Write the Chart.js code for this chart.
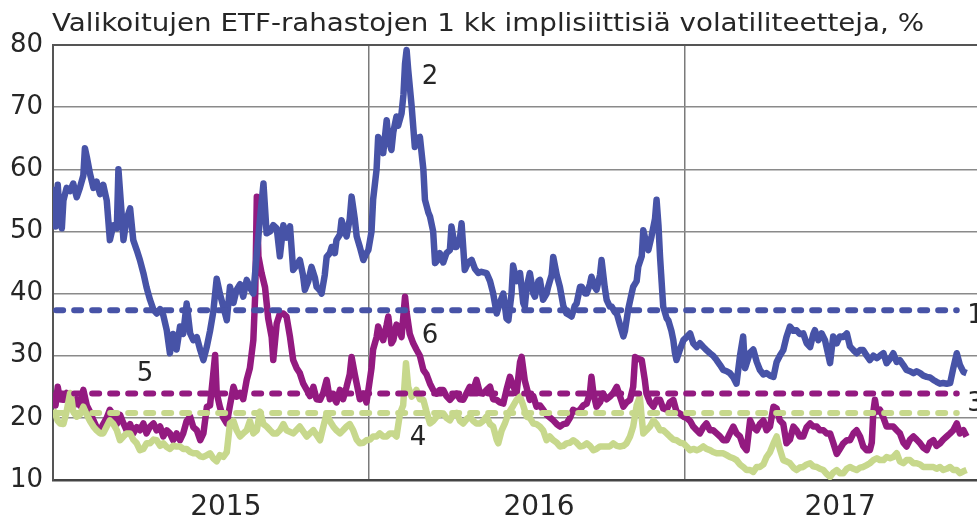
<!DOCTYPE html>
<html lang="fi">
<head>
<meta charset="UTF-8">
<title>ETF-rahastojen volatiliteetit</title>
<script src="https://cdn.jsdelivr.net/npm/chart.js"></script>
<style>
    html, body { margin: 0; padding: 0; background: #ffffff; overflow: hidden; }
    #wrap { width: 977px; height: 524px; }
</style>
</head>
<body>
<div id="wrap"><canvas id="volChart" width="977" height="524"></canvas></div>
<script>
// time axis: years since 1.1.2015
const yearNames = ['2015', '2016', '2017'];
const yearLabelAt = [0.547, 1.538, 2.491];
const yearLines = [1, 2];
const yTicks = [10, 20, 30, 40, 50, 60, 70, 80];

// dashed averages (1, 5, 3)
const avg1 = 37.3;
const avg5 = 23.9;
const avg3 = 20.8;
const avgSpan = [0.01, 2.86];

// series 2 (blue)
const t2 = [0.001,0.008,0.015,0.022,0.028,0.033,0.043,0.054,0.064,0.075,0.085,0.096,0.101,0.107,0.117,0.128,0.138,0.149,0.159,0.170,0.180,0.191,0.202,0.207,0.217,0.223,0.233,0.244,0.254,0.265,0.275,0.286,0.296,0.307,0.318,0.328,0.339,0.349,0.360,0.370,0.380,0.391,0.402,0.412,0.423,0.434,0.444,0.455,0.466,0.476,0.487,0.497,0.507,0.518,0.528,0.539,0.550,0.560,0.571,0.581,0.592,0.602,0.613,0.623,0.634,0.645,0.655,0.666,0.676,0.687,0.697,0.708,0.718,0.729,
    0.739,0.750,0.760,0.770,0.781,0.791,0.797,0.808,0.818,0.829,0.834,0.845,0.850,0.860,0.866,0.876,0.882,0.892,0.897,0.908,0.913,0.923,0.929,0.939,0.945,0.955,0.961,0.971,0.982,0.992,0.998,1.008,1.013,1.024,1.029,1.040,1.045,1.056,1.061,1.071,1.077,1.087,1.092,1.103,1.109,1.114,1.119,1.124,1.135,1.145,1.150,1.161,1.172,1.177,1.188,1.193,1.203,1.209,1.219,1.224,1.235,1.245,1.256,1.261,1.272,1.277,1.288,1.293,1.303,1.314,1.325,1.335,1.346,1.356,1.372,1.383,1.393,1.404,1.414,1.425,1.435,1.441,1.451,1.456,
    1.467,1.478,1.488,1.493,1.499,1.509,1.520,1.525,1.536,1.541,1.551,1.562,1.567,1.578,1.583,1.594,1.604,1.615,1.625,1.636,1.641,1.651,1.657,1.668,1.673,1.684,1.689,1.699,1.704,1.715,1.720,1.731,1.736,1.746,1.752,1.762,1.768,1.778,1.784,1.794,1.805,1.810,1.820,1.831,1.836,1.847,1.852,1.863,1.868,1.878,1.884,1.894,1.905,1.910,1.916,1.921,1.931,1.942,1.947,1.957,1.963,1.968,1.973,1.984,1.995,2.005,2.016,2.026,2.037,2.047,2.058,2.068,2.079,2.089,2.100,2.111,2.121,2.132,2.142,2.153,2.163,2.174,2.184,
    2.190,2.206,2.216,2.227,2.237,2.248,2.258,2.269,2.280,2.290,2.300,2.311,2.321,2.332,2.343,2.353,2.363,2.374,2.385,2.396,2.406,2.411,2.422,2.432,2.443,2.454,2.459,2.469,2.480,2.490,2.501,2.512,2.522,2.533,2.543,2.554,2.564,2.575,2.585,2.596,2.607,2.617,2.628,2.638,2.649,2.659,2.670,2.680,2.691,2.701,2.712,2.723,2.733,2.744,2.754,2.765,2.775,2.786,2.796,2.807,2.817,2.828,2.839,2.849,2.860,2.870,2.881,2.891];
const v2 = [57.2,50.8,57.5,52.0,50.5,55.0,57.0,56.5,57.7,55.5,57.0,59.0,63.4,62.0,59.3,57.0,58.0,56.0,57.5,55.0,48.6,51.0,50.5,60.0,53.0,48.6,52.0,53.7,48.6,47.0,45.4,43.3,41.0,39.0,37.4,36.8,37.5,36.5,34.1,30.4,33.5,31.0,34.7,33.5,38.4,33.6,32.5,33.0,30.9,29.3,31.5,34.0,37.0,42.4,40.0,37.9,35.7,41.1,38.5,40.6,41.5,39.5,42.2,41.0,40.0,46.5,52.0,57.7,49.7,50.0,51.0,50.5,46.0,51.0,
    49.0,50.8,43.8,44.5,45.4,43.0,40.6,42.0,44.3,42.5,41.1,40.5,40.0,43.0,45.9,46.5,47.5,46.5,48.6,49.5,51.8,50.0,49.2,52.0,55.6,52.0,49.2,47.5,45.4,46.5,47.0,50.0,55.1,60.0,65.2,64.0,62.6,67.9,65.0,63.1,66.0,68.5,67.0,69.0,72.0,77.0,79.2,76.0,70.1,63.6,65.0,65.2,60.0,55.1,53.0,52.4,50.0,44.9,45.5,46.5,45.0,46.5,47.0,50.8,47.5,47.5,49.0,51.3,43.8,45.0,45.4,44.0,43.3,43.5,43.3,42.0,40.0,36.8,38.5,40.0,36.0,35.7,40.0,44.5,
    42.0,43.3,38.5,37.9,41.0,43.3,40.0,39.5,42.0,42.2,39.0,40.0,41.1,43.0,45.9,43.0,41.1,38.0,36.8,36.5,36.3,38.0,38.4,41.1,41.1,40.0,40.0,41.5,42.7,41.0,40.6,43.0,45.4,41.0,39.0,37.9,37.9,37.0,36.8,35.0,33.1,34.0,37.4,40.0,41.1,42.0,44.3,46.0,50.2,48.0,47.0,49.2,52.0,55.1,51.0,45.9,37.9,36.0,35.7,34.0,32.5,30.5,29.3,31.0,32.5,33.0,33.6,32.0,31.4,32.0,31.4,30.9,30.4,30.0,29.3,28.5,27.7,27.5,27.2,26.5,25.5,30.0,33.1,
    28.0,30.5,31.0,29.0,27.7,27.0,27.2,26.8,26.6,29.0,30.0,30.9,33.0,34.7,34.0,34.1,33.5,33.6,32.0,31.4,33.5,34.1,32.5,33.6,32.5,30.0,28.8,33.1,32.0,33.1,33.0,33.6,31.5,30.9,30.4,30.9,30.9,30.0,29.3,30.0,29.6,30.0,30.4,28.8,29.5,30.4,29.0,29.3,28.5,27.7,27.5,27.2,27.5,27.2,26.8,26.6,26.5,26.1,25.8,25.5,25.6,25.5,25.6,28.0,30.4,28.5,27.4,27.2];

// series 6 (purple)
const t6 = [0.001,0.008,0.015,0.022,0.033,0.043,0.054,0.064,0.075,0.085,0.096,0.107,0.117,0.128,0.138,0.149,0.159,0.170,0.180,0.191,0.202,0.212,0.223,0.233,0.244,0.254,0.265,0.275,0.286,0.296,0.307,0.318,0.328,0.339,0.349,0.360,0.370,0.380,0.391,0.402,0.412,0.423,0.434,0.444,0.455,0.466,0.476,0.487,0.497,0.507,0.513,0.518,0.528,0.539,0.550,0.560,0.571,0.581,0.592,0.602,0.613,0.623,0.634,0.640,0.645,0.650,0.660,0.671,0.681,0.692,0.697,0.708,0.718,0.729,
    0.739,0.750,0.760,0.771,0.781,0.792,0.803,0.813,0.824,0.834,0.845,0.855,0.866,0.876,0.887,0.897,0.908,0.918,0.929,0.939,0.945,0.955,0.961,0.971,0.982,0.992,0.998,1.008,1.013,1.024,1.029,1.040,1.045,1.056,1.061,1.071,1.077,1.087,1.092,1.103,1.114,1.119,1.129,1.140,1.150,1.161,1.172,1.182,1.193,1.203,1.214,1.224,1.235,1.245,1.256,1.266,1.277,1.288,1.298,1.309,1.319,1.330,1.340,1.351,1.361,1.372,1.383,1.393,1.404,1.414,1.425,1.435,1.446,
    1.457,1.467,1.478,1.483,1.493,1.509,1.520,1.530,1.541,1.551,1.562,1.583,1.594,1.604,1.615,1.625,1.636,1.646,1.657,1.668,1.678,1.689,1.699,1.704,1.710,1.720,1.731,1.741,1.752,1.762,1.773,1.784,1.794,1.805,1.815,1.826,1.836,1.842,1.852,1.863,1.873,1.878,1.889,1.900,1.910,1.921,1.931,1.942,1.952,1.963,1.973,1.984,1.995,2.005,2.016,2.026,2.037,2.047,2.058,2.068,2.079,2.089,2.100,2.111,2.121,2.132,2.142,2.153,2.163,2.174,2.184,2.195,
    2.206,2.216,2.227,2.237,2.248,2.258,2.269,2.280,2.290,2.300,2.311,2.321,2.332,2.343,2.353,2.363,2.374,2.385,2.396,2.406,2.417,2.427,2.438,2.448,2.459,2.469,2.480,2.490,2.501,2.512,2.522,2.533,2.543,2.554,2.564,2.575,2.585,2.591,2.596,2.601,2.607,2.617,2.628,2.638,2.649,2.659,2.670,2.680,2.691,2.701,2.712,2.723,2.733,2.744,2.754,2.765,2.775,2.786,2.796,2.807,2.817,2.828,2.839,2.849,2.860,2.870,2.881,2.891];
const v6 = [24.0,22.0,25.0,23.0,22.9,24.0,22.0,21.8,23.0,22.0,24.5,22.0,21.0,19.6,18.5,18.0,19.0,20.0,21.3,20.5,19.0,20.5,19.1,18.0,19.0,17.5,18.5,18.0,19.1,17.5,18.6,19.1,18.0,18.6,17.0,18.0,17.5,16.4,17.5,16.4,17.5,19.5,20.2,18.5,18.0,16.4,17.5,21.8,22.0,27.0,30.1,24.0,21.8,20.0,19.1,22.0,25.0,23.4,24.0,23.0,26.1,28.0,32.5,40.0,55.6,46.0,43.3,41.0,36.0,33.0,29.3,35.2,36.8,36.8,
    36.3,33.0,29.3,28.0,27.2,25.5,24.5,23.5,25.0,23.0,22.9,24.0,26.1,23.0,23.4,22.5,24.5,23.0,25.0,27.0,29.8,27.0,25.5,23.0,23.9,22.5,24.5,28.0,31.0,33.0,34.7,33.0,32.5,35.0,36.3,32.0,32.5,35.0,34.7,33.0,39.5,37.0,33.5,32.0,31.0,30.0,27.7,27.0,25.5,24.5,23.9,24.5,24.5,23.5,22.9,23.5,23.9,23.0,22.9,24.0,25.0,24.5,26.1,24.0,23.9,24.5,25.0,23.0,22.9,22.5,22.3,24.5,26.6,
    25.0,24.0,29.0,29.8,26.0,22.9,23.5,21.8,22.0,21.3,20.5,19.6,19.0,18.6,19.0,19.1,20.0,21.3,21.0,21.3,22.0,22.3,24.0,26.6,24.0,21.8,22.5,23.9,23.0,23.4,24.0,25.0,23.5,21.8,22.5,22.9,25.0,29.8,29.5,29.3,26.0,23.9,22.5,21.8,22.9,22.9,21.5,21.3,22.5,22.9,21.0,20.7,20.2,20.0,19.5,18.6,18.0,17.5,18.5,19.1,18.0,18.0,17.5,17.0,16.4,16.4,17.5,18.6,17.5,17.0,15.5,14.8,
    19.6,18.5,18.0,19.0,19.6,18.0,18.6,21.8,21.5,19.6,19.0,15.9,16.5,18.6,18.0,17.0,17.0,18.5,19.1,18.6,18.6,18.0,18.0,17.5,17.5,16.0,14.2,15.0,15.9,16.4,16.4,17.5,18.0,17.0,15.4,14.8,14.8,16.0,21.0,22.9,21.0,21.3,20.0,18.6,18.6,18.6,18.0,17.5,16.0,15.4,16.5,17.0,16.5,15.9,15.2,14.8,16.0,16.4,15.5,15.9,16.5,17.0,17.5,18.0,19.1,17.5,18.0,17.0];

// series 4 (light green)
const t4 = [0.001,0.008,0.015,0.022,0.033,0.043,0.054,0.059,0.064,0.075,0.085,0.096,0.107,0.117,0.128,0.138,0.149,0.159,0.170,0.180,0.191,0.202,0.212,0.223,0.233,0.244,0.254,0.265,0.275,0.286,0.296,0.307,0.318,0.328,0.339,0.349,0.360,0.370,0.380,0.391,0.402,0.412,0.423,0.434,0.444,0.455,0.466,0.476,0.487,0.497,0.507,0.518,0.528,0.539,0.550,0.560,0.571,0.581,0.592,0.602,0.613,0.623,0.634,0.645,0.655,0.666,0.676,0.687,0.697,0.708,0.718,0.729,
    0.739,0.760,0.781,0.803,0.813,0.824,0.845,0.855,0.866,0.876,0.887,0.897,0.908,0.918,0.929,0.939,0.950,0.961,0.971,0.982,0.992,1.003,1.013,1.024,1.034,1.045,1.056,1.066,1.077,1.087,1.098,1.108,1.117,1.124,1.135,1.145,1.150,1.161,1.172,1.182,1.193,1.203,1.214,1.224,1.235,1.245,1.256,1.266,1.277,1.288,1.298,1.309,1.319,1.330,1.340,1.351,1.361,1.372,1.383,1.393,1.404,1.409,1.420,1.430,1.441,1.451,
    1.467,1.478,1.488,1.499,1.509,1.520,1.530,1.541,1.551,1.562,1.572,1.583,1.594,1.604,1.615,1.625,1.636,1.646,1.657,1.668,1.678,1.689,1.699,1.710,1.720,1.731,1.741,1.752,1.762,1.773,1.784,1.794,1.805,1.815,1.826,1.836,1.847,1.857,1.863,1.868,1.878,1.889,1.900,1.910,1.921,1.931,1.942,1.952,1.963,1.973,1.984,1.995,2.005,2.016,2.026,2.037,2.047,2.058,2.068,2.079,2.089,2.100,2.111,2.121,2.132,2.142,2.153,2.163,2.174,2.184,2.195,
    2.206,2.216,2.227,2.237,2.248,2.258,2.269,2.280,2.290,2.300,2.311,2.321,2.332,2.343,2.353,2.363,2.374,2.385,2.396,2.406,2.417,2.427,2.438,2.448,2.459,2.469,2.480,2.490,2.501,2.512,2.522,2.533,2.543,2.554,2.564,2.575,2.585,2.596,2.607,2.617,2.628,2.638,2.649,2.659,2.670,2.680,2.691,2.701,2.712,2.723,2.733,2.744,2.754,2.765,2.775,2.786,2.796,2.807,2.817,2.828,2.839,2.849,2.860,2.870,2.881,2.891];
const v4 = [21.3,20.5,19.5,19.1,19.0,21.0,24.0,23.0,21.0,20.2,20.5,21.8,20.5,19.5,18.6,18.0,17.5,17.5,18.6,19.6,19.0,18.0,16.4,17.0,17.5,17.5,16.5,15.9,14.8,15.0,15.9,15.9,16.5,16.4,15.5,15.9,15.3,15.0,15.5,15.4,15.4,15.0,15.0,14.5,14.3,14.3,13.8,13.7,14.0,14.3,13.5,13.0,14.0,13.7,14.5,19.1,19.5,18.0,17.0,17.5,18.0,19.5,17.5,18.0,21.0,19.0,18.6,18.0,17.5,17.5,18.0,19.0,
    18.0,17.5,18.6,17.0,17.5,18.0,16.4,18.5,20.7,19.5,18.6,18.0,17.5,18.0,18.6,19.0,18.0,16.5,15.9,16.0,16.4,16.5,17.0,17.0,17.5,17.0,17.0,17.5,17.5,17.0,20.7,22.0,28.8,25.0,23.4,24.0,24.5,23.0,22.9,21.0,19.1,19.5,20.2,20.5,20.7,20.0,19.6,20.5,20.8,19.5,19.1,19.8,20.2,19.5,19.1,19.1,19.5,20.2,19.0,18.6,16.5,15.9,18.0,19.1,20.7,21.5,
    22.9,23.4,22.0,20.2,20.0,19.1,19.0,18.6,18.0,16.4,17.0,16.4,16.0,15.4,15.5,15.9,16.0,16.4,16.0,15.4,15.5,15.9,15.5,14.8,15.0,15.4,15.4,15.4,15.4,15.9,15.5,15.4,15.5,15.9,17.0,18.6,22.0,23.4,20.0,17.5,18.0,18.6,19.6,19.0,18.0,18.0,17.5,17.0,16.5,16.4,16.0,15.9,15.4,14.8,15.0,14.8,15.0,15.4,15.0,14.8,14.5,14.3,14.3,14.3,14.0,13.7,13.5,13.2,12.5,12.1,11.6,
    11.6,11.3,12.1,12.1,12.5,13.7,14.5,15.9,17.0,15.0,13.2,13.0,12.7,12.0,11.6,12.0,12.1,12.5,12.7,12.2,12.1,11.8,11.6,11.0,10.5,11.2,11.6,11.1,11.1,11.8,12.1,11.8,11.6,12.0,12.1,12.4,12.7,13.2,13.5,13.2,13.2,13.7,13.5,13.7,14.3,13.0,12.7,13.2,13.2,12.7,12.7,12.5,12.1,12.1,12.1,12.1,11.8,12.1,11.6,11.8,12.1,11.6,11.6,11.1,11.4,11.6];

const BLUE = '#4753a7';
const PURPLE = '#931a80';
const GREEN = '#c7d88c';

function pts(ts, vs) {
    return ts.map((t, i) => ({ x: t, y: vs[i] }));
}
function flat(v) {
    return avgSpan.map(t => ({ x: t, y: v }));
}

// text drawn on top: title and the series numbers
const annotate = {
    id: 'annotate',
    afterDraw(chart) {
        const ctx = chart.ctx;
        const xs = chart.scales.x, ys = chart.scales.y;
        ctx.save();
        ctx.fillStyle = '#262626';
        ctx.textBaseline = 'alphabetic';

        // title is set a bit wider than the plain font
        ctx.save();
        ctx.translate(52, 31);
        ctx.scale(1.155, 1);
        ctx.font = '24px "DejaVu Sans"';
        ctx.textAlign = 'left';
        ctx.fillText('Valikoitujen ETF-rahastojen 1 kk implisiittisiä volatiliteetteja, %', 0, 0);
        ctx.restore();

        ctx.font = '26px "DejaVu Sans"';
        const marks = [
            ['2', 1.193, 75.2, 'center'],
            ['6', 1.193, 33.5, 'center'],
            ['5', 0.291, 27.4, 'center'],
            ['4', 1.155, 17.1, 'center'],
            ['1', 2.893, 36.8, 'left'],
            ['3', 2.893, 22.6, 'left']
        ];
        marks.forEach(([txt, t, v, align]) => {
            ctx.textAlign = align;
            ctx.fillText(txt, xs.getPixelForValue(t), ys.getPixelForValue(v) + 9.5);
        });
        ctx.restore();
    }
};

Chart.defaults.font.family = '"DejaVu Sans", sans-serif';
Chart.defaults.color = '#262626';

const dashStyle = { borderWidth: 6, borderDash: [7, 11], borderCapStyle: 'round' };

new Chart(document.getElementById('volChart').getContext('2d'), {
    type: 'line',
    data: {
        datasets: [
            { label: '1', data: flat(avg1), borderColor: BLUE, ...dashStyle },
            { label: '5', data: flat(avg5), borderColor: PURPLE, ...dashStyle },
            { label: '3', data: flat(avg3), borderColor: GREEN, ...dashStyle },
            { label: '2', data: pts(t2, v2), borderColor: BLUE, borderWidth: 6.5 },
            { label: '4', data: pts(t4, v4), borderColor: GREEN, borderWidth: 6.5 },
            { label: '6', data: pts(t6, v6), borderColor: PURPLE, borderWidth: 6.5 }
        ]
    },
    options: {
        responsive: false,
        animation: false,
        parsing: false,
        layout: { padding: { top: 45, left: 10, right: 0, bottom: 0 } },
        elements: {
            point: { radius: 0 },
            line: { tension: 0, borderJoinStyle: 'round', fill: false }
        },
        plugins: {
            legend: { display: false },
            tooltip: { enabled: false },
            title: { display: false }
        },
        scales: {
            x: {
                type: 'linear',
                min: 0,
                max: 2.924,
                afterBuildTicks(scale) {
                    scale.ticks = yearLines.concat(yearLabelAt)
                        .sort((a, b) => a - b)
                        .map(v => ({ value: v }));
                },
                afterFit(scale) { scale.height = 44; },
                ticks: {
                    autoSkip: false,
                    maxRotation: 0,
                    padding: 11,
                    font: { size: 28 },
                    color: '#262626',
                    callback(value) {
                        const i = yearLabelAt.indexOf(value);
                        return i >= 0 ? yearNames[i] : '';
                    }
                },
                grid: {
                    drawTicks: false,
                    color: ctx => yearLines.includes(ctx.tick.value) ? '#7a7a7a' : 'rgba(0,0,0,0)',
                    lineWidth: 1.5
                },
                border: { display: true, color: '#444444', width: 2.5 }
            },
            y: {
                min: 10,
                max: 80,
                afterBuildTicks(scale) {
                    scale.ticks = yTicks.map(v => ({ value: v }));
                },
                afterFit(scale) { scale.width = 43; },
                ticks: {
                    padding: 10,
                    font: { size: 26 },
                    color: '#262626'
                },
                grid: {
                    drawTicks: false,
                    color: ctx => ctx.tick.value === 80 ? '#555555' : (ctx.tick.value === 10 ? 'rgba(0,0,0,0)' : '#8a8a8a'),
                    lineWidth: ctx => ctx.tick.value === 80 ? 2 : 1.5
                },
                border: { display: true, color: '#555555', width: 2 }
            }
        }
    },
    plugins: [annotate]
});
</script>
</body>
</html>
